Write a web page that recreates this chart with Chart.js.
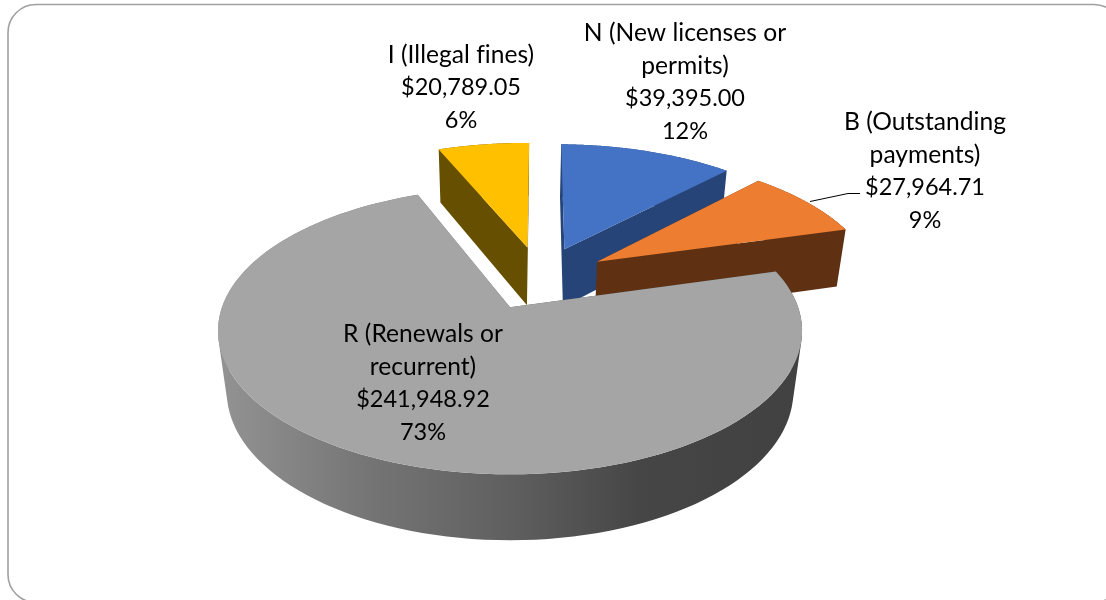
<!DOCTYPE html>
<html>
<head>
<meta charset="utf-8">
<style>
html,body{margin:0;padding:0;background:#fff;overflow:hidden}
#wrap{width:1106px;height:600px}
canvas{display:block}
</style>
<script src="https://cdn.jsdelivr.net/npm/chart.js@4/dist/chart.umd.min.js"></script>
</head>
<body>
<div id="wrap"><canvas id="c" width="1106" height="600"></canvas></div>
<script>
// ---- data ----
const categories = ['N (New licenses or permits)', 'B (Outstanding payments)', 'R (Renewals or recurrent)', 'I (Illegal fines)'];
const values = [39395.00, 27964.71, 241948.92, 20789.05];
const percentLabels = ['12%', '9%', '73%', '6%'];
const labelLines = [['N (New licenses or', 'permits)'], ['B (Outstanding', 'payments)'], ['R (Renewals or', 'recurrent)'], ['I (Illegal fines)']];
const topColors = ['#4472C4', '#ED7D31', '#A5A5A5', '#FFC000'];
const wallColors = ['#264478', '#5F3012', '#636363', '#665000'];

// ---- styling and layout ----
const labelCenters = [[685, 33], [925, 122], [423, 334], [461, 55]];
const lineHeight = 32.7;
const drawOrder = [3, 0, 1, 2];
const RADIUS = 200, EXPLODE = 0.245, ROTATION = 1;
const P = {cx: 510, cy: 307, a: 288, b: 139.5, k: 0.165, e: 0.03, D: 62, cu: 0.109, cv: 0.218};

function project(U, V, low) {
  const u = U + P.cu, v = V + P.cv;
  const w = 1 + P.k * v + (low ? P.e : 0);
  return [P.cx + P.a * u / w, P.cy + (-P.b * v + (low ? P.D : 0)) / w];
}
function addPoly(ctx, pts) {
  let area = 0;
  pts.forEach((p, i) => {
    const q = pts[(i + 1) % pts.length];
    area += p[0] * q[1] - q[0] * p[1];
  });
  const list = area < 0 ? pts.slice().reverse() : pts;
  list.forEach((p, i) => i ? ctx.lineTo(p[0], p[1]) : ctx.moveTo(p[0], p[1]));
  ctx.closePath();
}
const pie3d = {
  id: 'pie3d',
  beforeDraw(chart) {
    const ctx = chart.ctx;
    ctx.save();
    ctx.fillStyle = '#fff';
    ctx.fillRect(0, 0, 1106, 600);
    ctx.strokeStyle = '#a0a0a0';
    ctx.lineWidth = 1.6;
    ctx.beginPath();
    ctx.roundRect(8, 4.5, 1114, 598, 28);
    ctx.stroke();
    ctx.restore();
  },
  beforeDatasetDraw(chart) {
    const ctx = chart.ctx, arcs = chart.getDatasetMeta(0).data;
    ctx.save();
    drawOrder.forEach(i => {
      const el = arcs[i], R = el.outerRadius;
      const s = el.startAngle, e = el.endAngle, mid = (s + e) / 2;
      const ox = Math.cos(mid) * el.options.offset / 4 / R;
      const oy = -Math.sin(mid) * el.options.offset / 4 / R;
      const arc = [];
      const n = 120;
      for (let j = 0; j <= n; j++) {
        const t = s + (e - s) * j / n;
        arc.push([ox + Math.cos(t), oy - Math.sin(t)]);
      }
      const top = arc.map(q => project(q[0], q[1], false));
      const low = arc.map(q => project(q[0], q[1], true));
      const apexT = project(ox, oy, false), apexL = project(ox, oy, true);
      let wallFill = wallColors[i];
      if (i === 2) {
        const g = ctx.createLinearGradient(224, 0, 800, 0);
        g.addColorStop(0, '#929292');
        g.addColorStop(0.25, '#757575');
        g.addColorStop(0.5, '#5f5f5f');
        g.addColorStop(0.72, '#464646');
        g.addColorStop(1, '#414141');
        wallFill = g;
      }
      ctx.fillStyle = wallFill;
      ctx.beginPath();
      addPoly(ctx, [apexT, top[0], low[0], apexL]);
      addPoly(ctx, [apexT, top[n], low[n], apexL]);
      for (let j = 0; j < n; j++) {
        addPoly(ctx, [top[j], top[j + 1], low[j + 1], low[j]]);
      }
      ctx.fill('nonzero');
      ctx.fillStyle = topColors[i];
      ctx.beginPath();
      addPoly(ctx, [apexT].concat(top));
      ctx.fill();
    });
    ctx.restore();
    return false;
  },
  afterDatasetsDraw(chart) {
    const ctx = chart.ctx;
    ctx.save();
    ctx.strokeStyle = '#000';
    ctx.lineWidth = 1;
    ctx.beginPath();
    ctx.moveTo(810, 201.5); ctx.lineTo(848, 193.5); ctx.lineTo(860, 193.5);
    ctx.stroke();
    ctx.fillStyle = '#000';
    ctx.textAlign = 'center';
    ctx.textBaseline = 'middle';
    categories.forEach((c, i) => {
      const money = '$' + values[i].toLocaleString('en-US', {minimumFractionDigits: 2, maximumFractionDigits: 2});
      const names = labelLines[i];
      const lines = names.concat([money, percentLabels[i]]);
      lines.forEach((t, j) => {
        const isName = j < names.length;
        ctx.font = (isName ? '24.6px' : '23.5px') + ' Lato, "Open Sans", sans-serif';
        ctx.letterSpacing = isName ? '0.02px' : '0px';
        ctx.fillText(t, labelCenters[i][0], labelCenters[i][1] + j * lineHeight);
      });
    });
    ctx.restore();
  }
};
new Chart(document.getElementById('c'), {
  type: 'pie',
  data: {labels: categories, datasets: [{data: values, backgroundColor: topColors, borderWidth: 0, offset: RADIUS * EXPLODE * 4}]},
  options: {
    responsive: false,
    animation: false,
    radius: RADIUS,
    rotation: ROTATION,
    plugins: {legend: {display: false}, tooltip: {enabled: false}}
  },
  plugins: [pie3d]
});
</script>
</body>
</html>
